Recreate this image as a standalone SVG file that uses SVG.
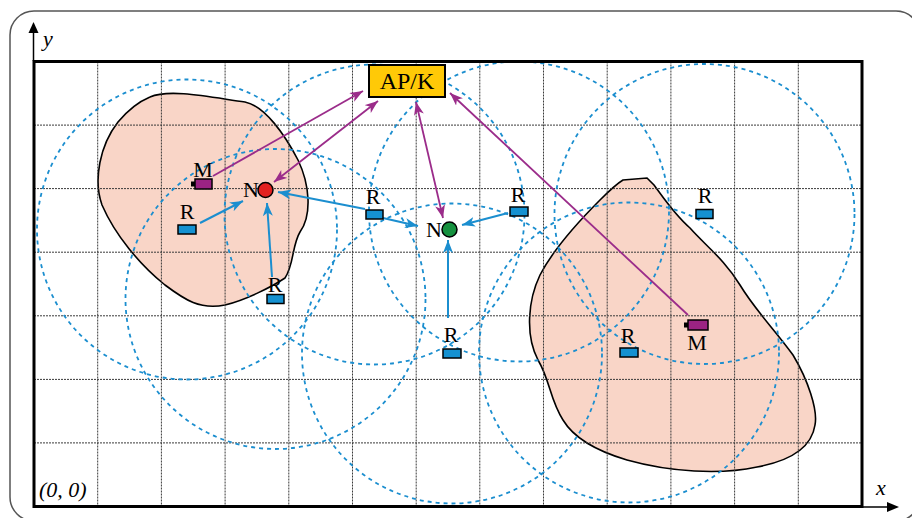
<svg xmlns="http://www.w3.org/2000/svg" width="912" height="518" viewBox="0 0 912 518">
<defs>
<style>
.grid{stroke:#3a3a3a;stroke-width:1;stroke-dasharray:2 1;fill:none}
.cov{fill:none;stroke:#1B8ECF;stroke-width:1.8;stroke-dasharray:4 4}
.blob{fill:#F9D5C7;stroke:#000;stroke-width:1.6}
.ba{stroke:#1B8ECF;stroke-width:2;fill:none;marker-end:url(#ab)}
.pa{stroke:#9B2C8A;stroke-width:1.8;fill:none;marker-end:url(#ap)}
.pa2{stroke:#9B2C8A;stroke-width:1.8;fill:none;marker-end:url(#ap);marker-start:url(#ap)}
.rbox{fill:#1591D1;stroke:#000;stroke-width:1.5}
.mbox{fill:#9B2383;stroke:#000;stroke-width:1.5}
.lbl{font-family:"Liberation Serif","Times New Roman",serif;font-size:22px;fill:#000}
.it{font-family:"Liberation Serif","Times New Roman",serif;font-style:italic;font-size:22px;fill:#000}
</style>
<marker id="ab" markerUnits="userSpaceOnUse" markerWidth="14" markerHeight="12" refX="13" refY="5" orient="auto-start-reverse">
<path d="M0,0 L13,5 L0,10 L3.5,5 z" fill="#1B8ECF"/>
</marker>
<marker id="ap" markerUnits="userSpaceOnUse" markerWidth="14" markerHeight="12" refX="13" refY="5" orient="auto-start-reverse">
<path d="M0,0 L13,5 L0,10 L3.5,5 z" fill="#9B2C8A"/>
</marker>
</defs>
<rect x="0" y="0" width="912" height="518" fill="#fff"/>
<rect x="10" y="11" width="910" height="510" rx="24" fill="none" stroke="#555" stroke-width="1.5"/>

<g id="regions">
<path class="blob" d="M150,97 C170,88 215,98 245,102 C265,106 285,135 298,160 C310,185 312,215 300,232 C292,245 294,265 285,278 C270,288 245,300 225,305 C200,310 185,300 165,285 C140,265 115,235 102,205 C93,180 100,145 118,122 C128,110 138,102 150,97 Z"/>
<path class="blob" d="M623,180 L647,178 L654,185 C665,200 675,215 690,228 C705,245 725,260 740,285 C755,310 775,330 793,355 C808,380 818,410 815,425 C812,445 795,460 757,467 C720,475 670,472 627,460 C600,452 575,440 563,420 C550,400 550,380 538,360 C525,335 528,300 540,275 C553,250 575,225 600,200 C610,190 618,183 623,180 Z"/>
</g>

<g id="grid">
<path class="grid" d="M97.7,61.5V506.5M161.4,61.5V506.5M225.1,61.5V506.5M288.8,61.5V506.5M352.5,61.5V506.5M416.2,61.5V506.5M479.8,61.5V506.5M543.5,61.5V506.5M607.2,61.5V506.5M670.9,61.5V506.5M734.6,61.5V506.5M798.3,61.5V506.5"/>
<path class="grid" d="M34,125.1H862M34,188.6H862M34,252.2H862M34,315.8H862M34,379.4H862M34,442.9H862"/>
</g>

<g id="coverage">
<circle class="cov" cx="187" cy="229.5" r="150"/>
<circle class="cov" cx="275.5" cy="299" r="150"/>
<circle class="cov" cx="374.5" cy="214.5" r="150"/>
<circle class="cov" cx="519" cy="211.5" r="150"/>
<circle class="cov" cx="452" cy="353.5" r="150"/>
<circle class="cov" cx="704.5" cy="214" r="150"/>
<circle class="cov" cx="629" cy="352.5" r="150"/>
</g>

<g id="frame">
<rect x="34" y="61.5" width="828" height="445" fill="none" stroke="#000" stroke-width="3"/>
<line x1="33.5" y1="61" x2="33.5" y2="30" stroke="#000" stroke-width="1.5"/>
<path d="M33.5,22 L38.5,33 L28.5,33 z" fill="#000"/>
<line x1="862" y1="507" x2="890" y2="507" stroke="#000" stroke-width="1.5"/>
<path d="M899,507 L887,502 L887,512 z" fill="#000"/>
<text class="it" x="43" y="46">y</text>
<text class="it" x="876" y="495">x</text>
<text class="it" x="39" y="497">(0, 0)</text>
</g>

<g id="connectors">
<line class="ba" x1="200" y1="223" x2="243" y2="201"/>
<line class="ba" x1="272" y1="277" x2="267" y2="203"/>
<line class="ba" x1="365" y1="209" x2="278" y2="192"/>
<line class="ba" x1="383" y1="218" x2="418" y2="226"/>
<line class="ba" x1="508" y1="213" x2="462" y2="225"/>
<line class="ba" x1="448" y1="318" x2="448" y2="240"/>
<line class="pa" x1="213" y1="176" x2="363" y2="91"/>
<line class="pa2" x1="274" y1="182" x2="378" y2="101"/>
<line class="pa2" x1="443" y1="218" x2="416" y2="102"/>
<line class="pa" x1="688" y1="315" x2="450" y2="93"/>
</g>

<g id="apk">
<rect x="369" y="65" width="76" height="32" fill="#FFC907" stroke="#000" stroke-width="2"/>
<text class="lbl" x="407" y="89" text-anchor="middle" style="font-size:24px">AP/K</text>
</g>

<g id="n-red">
<circle cx="265.5" cy="190" r="7.5" fill="#E3201F" stroke="#000" stroke-width="1.5"/>
<text class="lbl" x="259" y="197" text-anchor="end">N</text>
</g>
<g id="n-green">
<circle cx="449.5" cy="229.5" r="7.5" fill="#15913F" stroke="#000" stroke-width="1.5"/>
<text class="lbl" x="442" y="237" text-anchor="end">N</text>
</g>

<g id="m-left">
<rect x="191" y="181.5" width="4" height="5" fill="#000"/>
<rect class="mbox" x="195" y="179" width="17" height="10"/>
<text class="lbl" x="203" y="177" text-anchor="middle">M</text>
</g>
<g id="m-right">
<rect x="684" y="322.5" width="4" height="5" fill="#000"/>
<rect class="mbox" x="688" y="320" width="20" height="10"/>
<text class="lbl" x="697" y="350" text-anchor="middle">M</text>
</g>

<g id="r1"><rect class="rbox" x="178" y="225" width="18" height="9"/><text class="lbl" x="187" y="219" text-anchor="middle">R</text></g>
<g id="r2"><rect class="rbox" x="267" y="294.5" width="17" height="9"/><text class="lbl" x="275" y="292" text-anchor="middle">R</text></g>
<g id="r3"><rect class="rbox" x="366" y="210" width="17" height="9"/><text class="lbl" x="373" y="204" text-anchor="middle">R</text></g>
<g id="r4"><rect class="rbox" x="510" y="207" width="18" height="9"/><text class="lbl" x="518" y="202" text-anchor="middle">R</text></g>
<g id="r5"><rect class="rbox" x="443" y="349" width="18" height="9"/><text class="lbl" x="451" y="342" text-anchor="middle">R</text></g>
<g id="r6"><rect class="rbox" x="696" y="209.5" width="17" height="9"/><text class="lbl" x="705" y="203" text-anchor="middle">R</text></g>
<g id="r7"><rect class="rbox" x="620" y="348" width="18" height="9"/><text class="lbl" x="628" y="343" text-anchor="middle">R</text></g>
</svg>
